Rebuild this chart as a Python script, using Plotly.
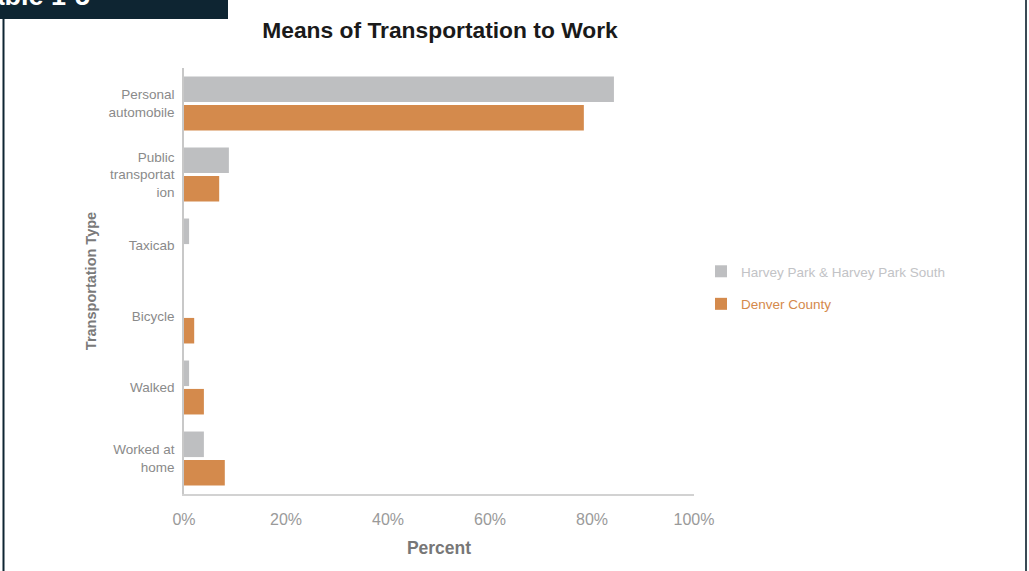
import plotly.graph_objects as go

# Transportation categories (top to bottom) and shares of workers, in percent
categories = [
    "Personal<br>automobile",
    "Public<br>transportat<br>ion",
    "Taxicab",
    "Bicycle",
    "Walked",
    "Worked at<br>home",
]
harvey_park = [84.3, 8.8, 1.0, 0.0, 1.0, 3.9]
denver_county = [78.4, 6.9, 0.0, 2.0, 3.9, 8.0]
series_names = ["Harvey Park & Harvey Park South", "Denver County"]
x_ticks = [0, 20, 40, 60, 80, 100]
x_tick_labels = ["0%", "20%", "40%", "60%", "80%", "100%"]

W, H = 1029, 571
ML, MR, MT, MB = 184, 335, 68, 77
PW, PH = W - ML - MR, H - MT - MB

GRAY = "#bebfc1"
ORANGE = "#d48a4c"
NAVY = "#0e2532"


def px_x(p):
    return (p - ML) / PW


def px_y(p):
    return (H - MB - p) / PH


def colored(text, color):
    return f"<span style='color:{color}'>{text}</span>"


fig = go.Figure()
fig.add_trace(go.Bar(
    y=categories, x=harvey_park, orientation="h",
    name=colored(series_names[0], "#c2c3c6"),
    marker=dict(color=GRAY, line=dict(width=0)), legendgroup="a",
))
fig.add_trace(go.Bar(
    y=categories, x=denver_county, orientation="h",
    name=colored(series_names[1], "#d4894b"),
    marker=dict(color=ORANGE, line=dict(width=0)), legendgroup="b",
))

fig.update_layout(
    width=W, height=H,
    margin=dict(l=ML, r=MR, t=MT, b=MB, pad=0),
    paper_bgcolor="white", plot_bgcolor="white",
    barmode="group", bargap=0.2, bargroupgap=0.1,
    font=dict(family="Liberation Sans, Arial, sans-serif"),
    title=dict(
        text="<b>Means of Transportation to Work</b>",
        x=px_x(440), xref="paper", xanchor="center",
        y=1 - 30 / H, yanchor="middle",
        font=dict(size=22.8, color="#1a1a1a"),
    ),
    legend=dict(
        x=px_x(701), y=px_y(256), xanchor="left", yanchor="top",
        tracegroupgap=12, itemwidth=30,
        font=dict(size=13.5),
        bgcolor="rgba(0,0,0,0)",
    ),
    xaxis=dict(
        range=[0, 100], tickvals=x_ticks, ticktext=x_tick_labels,
        showgrid=False, zeroline=False,
        showline=True, linecolor="#d2d2d2", linewidth=1.5,
        ticks="", ticklabelstandoff=10,
        tickfont=dict(size=16, color="#9a9a9a"),
        title=dict(text="<b>Percent</b>", font=dict(size=17.5, color="#777"), standoff=15),
    ),
    yaxis=dict(
        autorange="reversed", showgrid=False, zeroline=False,
        showline=True, linecolor="#c8c8c8", linewidth=1.5,
        ticks="", ticklabelstandoff=5,
        tickfont=dict(size=13.5, color="#8a8a8a"),
        title=dict(text="<b>Transportation Type</b>", font=dict(size=14.5, color="#7a7a7a"), standoff=8),
    ),
)

# Page frame: header tab and side rules
fig.add_shape(type="rect", xref="paper", yref="paper",
              x0=px_x(-5), x1=px_x(228), y0=px_y(19), y1=px_y(-5),
              fillcolor=NAVY, line=dict(width=0), layer="below")
fig.add_shape(type="line", xref="paper", yref="paper",
              x0=px_x(3.5), x1=px_x(3.5), y0=px_y(19), y1=px_y(H + 5),
              line=dict(color=NAVY, width=2))
fig.add_shape(type="line", xref="paper", yref="paper",
              x0=px_x(1026), x1=px_x(1026), y0=px_y(-5), y1=px_y(H + 5),
              line=dict(color="#3a4a55", width=2))
fig.add_annotation(text="<b>Table 1-5</b>", xref="paper", yref="paper",
                   x=px_x(92), y=px_y(13), xanchor="right", yanchor="bottom",
                   showarrow=False, font=dict(size=27, color="white"))

fig.write_html("out.html")
